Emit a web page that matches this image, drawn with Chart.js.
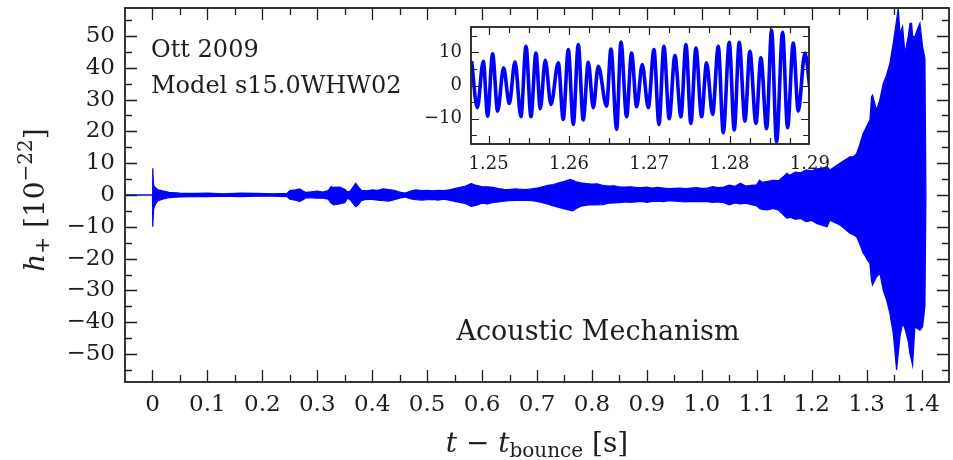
<!DOCTYPE html>
<html><head><meta charset="utf-8">
<script src="https://cdn.jsdelivr.net/npm/chart.js@4.4.1/dist/chart.umd.min.js"></script>
<style>
html,body{margin:0;padding:0;background:#fff;}
#wrap{position:relative;width:953px;height:460px;overflow:hidden;background:#fff;}
#main{position:absolute;left:0;top:0;}
#inset{position:absolute;left:400px;top:15px;}
</style></head><body>
<div id="wrap"><canvas id="main" width="953" height="460"></canvas><canvas id="inset" width="430" height="170"></canvas></div>
<script>
// ---------- data ----------
// Main panel: upper / lower envelope of the dense h+ signal [1e-22] vs t - t_bounce [s]
const sigT = [-0.05,0.0,0.0005,0.002,0.005,0.01,0.02,0.03,0.05,0.08,0.10,0.13,0.16,0.19,0.22,0.245,0.25,0.26,0.268,0.275,0.28,0.29,0.30,0.31,0.32,0.325,0.33,0.34,0.35,0.355,0.36,0.37,0.375,0.38,0.39,0.40,0.41,0.42,0.43,0.44,0.45,0.46,0.47,0.48,0.49,0.50,0.51,0.52,0.53,0.54,0.55,0.56,0.57,0.58,0.59,0.60,0.61,0.62,0.63,0.64,0.65,0.66,0.67,0.68,0.69,0.70,0.71,0.72,0.73,0.74,0.75,0.76,0.765,0.77,0.78,0.79,0.80,0.81,0.82,0.83,0.84,0.85,0.86,0.87,0.88,0.89,0.90,0.91,0.92,0.93,0.94,0.95,0.96,0.97,0.98,0.99,1.00,1.01,1.02,1.03,1.04,1.05,1.06,1.07,1.08,1.09,1.10,1.105,1.11,1.12,1.13,1.14,1.15,1.155,1.16,1.17,1.18,1.19,1.20,1.21,1.22,1.228,1.2332,1.2514,1.2696,1.2756,1.2817,1.2878,1.2938,1.2970,1.2999,1.3060,1.3090,1.3108,1.3181,1.3242,1.3302,1.3364,1.3424,1.3485,1.3546,1.3576,1.3607,1.3655,1.3698,1.3758,1.3790,1.3819,1.3837,1.3879,1.3922,1.3971,1.4019,1.4062,1.4080];
const sigUpper = [0,0,8.4,3.0,2.4,1.6,1.2,0.8,0.6,0.5,0.6,0.4,0.6,0.5,0.4,0.5,1.4,1.6,1.9,1.2,0.8,1.0,1.2,0.9,1.4,2.6,2.4,2.5,1.8,1.0,1.2,3.7,2.5,1.5,1.3,1.6,1.5,1.9,1.7,1.5,0.9,0.6,1.2,1.6,1.4,1.5,1.3,1.5,1.4,1.6,2.0,2.4,2.8,3.6,3.0,2.6,2.6,2.4,2.0,1.8,1.7,1.9,1.8,1.7,1.9,2.2,2.6,3.0,3.3,3.8,4.3,4.9,4.6,4.2,3.8,3.6,3.4,3.5,3.0,2.8,2.9,2.6,2.5,2.6,2.4,2.3,2.5,2.2,2.4,2.2,2.0,2.1,2.2,2.0,2.2,2.3,2.1,2.2,2.6,2.3,2.5,3.1,2.7,3.7,2.8,3.0,3.2,4.7,4.0,4.3,4.6,4.5,6.0,6.8,6.2,7.2,7.0,7.9,7.6,8.2,8.5,8.9,7.9,10.0,12.0,12.0,13.0,16.0,19.4,20.4,21.5,23.6,30.9,31.4,26.7,30.0,35.0,37.7,41.4,47.7,55.0,58.7,50.8,53.0,44.5,49.8,54.0,54.0,50.0,49.8,51.9,54.0,46.6,43.0,0];
const sigLower = [0,0,-10.0,-4.5,-3.0,-1.8,-1.2,-0.8,-0.6,-0.5,-0.5,-0.4,-0.5,-0.4,-0.4,-0.5,-1.3,-1.6,-2.0,-1.4,-0.8,-0.9,-1.0,-1.0,-1.3,-2.5,-3.1,-2.8,-2.4,-1.0,-1.5,-3.7,-3.0,-1.8,-1.3,-1.4,-1.6,-1.8,-1.9,-1.5,-1.0,-0.6,-1.2,-1.5,-1.6,-1.5,-1.4,-1.6,-1.3,-1.6,-2.0,-2.3,-2.7,-3.6,-3.2,-2.6,-2.8,-2.3,-2.2,-1.9,-1.8,-1.7,-1.7,-1.7,-1.8,-2.0,-2.4,-2.9,-3.4,-3.9,-4.4,-4.8,-5.0,-4.4,-3.5,-3.2,-3.0,-3.1,-3.0,-2.6,-2.5,-2.4,-2.2,-2.3,-2.2,-2.0,-2.3,-2.0,-1.9,-2.1,-1.8,-1.9,-2.0,-2.2,-2.0,-2.1,-2.0,-2.1,-2.3,-2.2,-2.4,-3.1,-2.5,-2.8,-2.6,-3.0,-3.4,-4.2,-4.5,-4.7,-4.2,-4.8,-6.5,-7.3,-7.0,-7.6,-7.4,-8.4,-8.0,-9.0,-9.6,-10.0,-7.9,-9.4,-12.0,-12.5,-13.1,-15.5,-18.3,-19.0,-20.0,-21.5,-27.0,-28.3,-25.7,-24.6,-29.9,-33.0,-37.2,-43.5,-55.0,-50.0,-44.5,-40.4,-42.0,-46.0,-50.0,-52.0,-53.5,-41.4,-42.0,-42.5,-41.4,-35.0,0];

// Inset: successive extrema of the resolved waveform, t in [1.248, 1.290]
const insetT = [1.24788,1.24858,1.24933,1.24987,1.25049,1.25112,1.25186,1.25257,1.25328,1.25402,1.25465,1.25527,1.25589,1.25643,1.25705,1.25776,1.25867,1.25929,1.25992,1.26054,1.26116,1.26178,1.26241,1.26303,1.26365,1.26469,1.26523,1.26594,1.26648,1.26718,1.26780,1.26843,1.26913,1.26988,1.27059,1.27121,1.27183,1.27249,1.27320,1.27395,1.27457,1.27519,1.27582,1.27652,1.27714,1.27789,1.27860,1.27922,1.27997,1.28059,1.28121,1.28192,1.28254,1.28329,1.28391,1.28462,1.28524,1.28586,1.28661,1.28723,1.28794,1.28856,1.28939,1.29010];
const insetH = [7.3,-6.7,7.3,-9.2,9.5,-7.7,5.3,-5.4,7.1,-9.4,11.8,-9.4,9.8,-7.0,7.6,-5.7,6.8,-10.2,10.8,-11.7,12.3,-10.4,7.0,-6.7,5.8,-6.2,11.0,-13.2,13.1,-9.4,9.8,-6.4,6.3,-6.7,10.8,-11.7,11.8,-10.0,9.0,-9.4,12.3,-11.4,11.3,-9.4,6.8,-8.7,11.8,-14.2,13.0,-13.4,13.0,-10.7,10.3,-11.4,8.3,-13.0,16.6,-17.0,16.0,-12.7,12.8,-7.7,9.8,-3.0];

// Tick values and labels
const xTickVals = [0,0.1,0.2,0.3,0.4,0.5,0.6,0.7,0.8,0.9,1.0,1.1,1.2,1.3,1.4];
const xTickLabels = ['0','0.1','0.2','0.3','0.4','0.5','0.6','0.7','0.8','0.9','1.0','1.1','1.2','1.3','1.4'];
const yTickVals = [-50,-40,-30,-20,-10,0,10,20,30,40,50];
const yTickLabels = ['\u221250','\u221240','\u221230','\u221220','\u221210','0','10','20','30','40','50'];
const insetXTickVals = [1.25,1.26,1.27,1.28,1.29];
const insetXTickLabels = ['1.25','1.26','1.27','1.28','1.29'];
const insetYTickVals = [-10,0,10];
const insetYTickLabels = ['\u221210','0','10'];

// Text
const noteLines = ['Ott 2009','Model s15.0WHW02'];
const mechText = 'Acoustic Mechanism';

// ---------- styling ----------
const SERIF = "'DejaVu Serif', 'Liberation Serif', serif";
const INK = '#1e1e1e';
const BLUE = '#0000ff';

function minorsBetween(vals, step){
  const out = [];
  const lo = vals[0] - step, hi = vals[vals.length-1] + step;
  for (let v = lo; v <= hi + 1e-9; v += step * 2) out.push(+v.toFixed(6));
  return out;
}
function noPad(s){ s.paddingTop = 0; s.paddingBottom = 0; s.paddingLeft = 0; s.paddingRight = 0; }

function framePlugin(cfg){
  return {
    id: 'frame_' + cfg.name,
    beforeDraw(chart){
      if (!cfg.whiteBg) return;
      const a = chart.chartArea, ctx = chart.ctx;
      ctx.save(); ctx.fillStyle = '#fff';
      ctx.fillRect(a.left, a.top, a.right - a.left, a.bottom - a.top);
      ctx.restore();
    },
    afterDraw(chart){
      const {ctx, chartArea: a, scales} = chart;
      ctx.save();
      ctx.strokeStyle = INK;
      ctx.lineWidth = cfg.tickWidth;
      ctx.beginPath();
      const xt = (vals, len) => vals.forEach(v => {
        const p = Math.round(scales.x.getPixelForValue(v)) + 0.5;
        if (p < a.left || p > a.right) return;
        ctx.moveTo(p, a.bottom); ctx.lineTo(p, a.bottom - len);
        ctx.moveTo(p, a.top); ctx.lineTo(p, a.top + len);
      });
      const yt = (vals, len) => vals.forEach(v => {
        const p = Math.round(scales.y.getPixelForValue(v)) + 0.5;
        if (p < a.top || p > a.bottom) return;
        ctx.moveTo(a.left, p); ctx.lineTo(a.left + len, p);
        ctx.moveTo(a.right, p); ctx.lineTo(a.right - len, p);
      });
      xt(cfg.xMajor, cfg.majorLen); xt(cfg.xMinor, cfg.minorLen);
      yt(cfg.yMajor, cfg.majorLen); yt(cfg.yMinor, cfg.minorLen);
      ctx.stroke();
      ctx.lineWidth = cfg.frameWidth;
      ctx.strokeRect(a.left, a.top, a.right - a.left, a.bottom - a.top);
      ctx.restore();
      if (cfg.extra) cfg.extra(chart);
    }
  };
}

function drawRich(ctx, parts){
  let w = 0;
  parts.forEach(p => { ctx.font = p.font; p.w = ctx.measureText(p.t).width; w += p.w; });
  let x = -w/2;
  parts.forEach(p => { ctx.font = p.font; ctx.fillText(p.t, x, p.dy); x += p.w; });
}

function mainExtras(chart){
  const ctx = chart.ctx, a = chart.chartArea;
  ctx.save();
  ctx.fillStyle = INK;
  ctx.textBaseline = 'alphabetic';
  ctx.textAlign = 'left';
  ctx.font = '24px ' + SERIF;
  ctx.fillText(noteLines[0], a.left + 26, 57);
  ctx.fillText(noteLines[1], a.left + 26, 93);
  ctx.font = '27px ' + SERIF;
  ctx.textAlign = 'center';
  ctx.fillText(mechText, 598, 340);
  ctx.textAlign = 'left';
  // x-axis title
  ctx.save();
  ctx.translate(537, 452);
  drawRich(ctx, [
    {t:'t', font:'italic 28px ' + SERIF, dy:0},
    {t:' \u2212 ', font:'28px ' + SERIF, dy:0},
    {t:'t', font:'italic 28px ' + SERIF, dy:0},
    {t:'bounce', font:'20px ' + SERIF, dy:5},
    {t:' [s]', font:'28px ' + SERIF, dy:0}
  ]);
  ctx.restore();
  // y-axis title
  ctx.save();
  ctx.translate(44, 200);
  ctx.rotate(-Math.PI/2);
  drawRich(ctx, [
    {t:'h', font:'italic 28px ' + SERIF, dy:0},
    {t:'+', font:'20px ' + SERIF, dy:5},
    {t:' [10', font:'28px ' + SERIF, dy:0},
    {t:'\u221222', font:'20px ' + SERIF, dy:-12},
    {t:']', font:'28px ' + SERIF, dy:0}
  ]);
  ctx.restore();
  ctx.restore();
}

// ---------- main chart ----------
const mainMinorX = minorsBetween(xTickVals, 0.05).filter(v => v > -0.05 && v < 1.45);
const mainMinorY = minorsBetween(yTickVals, 5);

new Chart(document.getElementById('main'), {
  type: 'line',
  data: {
    datasets: [
      { data: sigT.map((t,i) => ({x:t, y:sigUpper[i]})), borderColor: BLUE, borderWidth: 1.2,
        pointRadius: 0, fill: false, tension: 0 },
      { data: sigT.map((t,i) => ({x:t, y:sigLower[i]})), borderColor: BLUE, borderWidth: 1.2,
        pointRadius: 0, fill: '-1', backgroundColor: BLUE, tension: 0 }
    ]
  },
  options: {
    responsive: false, animation: false, devicePixelRatio: 1,
    layout: { padding: { left: 0, right: 4, top: 8, bottom: 0 } },
    plugins: { legend: {display:false}, tooltip: {enabled:false} },
    scales: {
      x: {
        type: 'linear', min: -0.05, max: 1.45,
        grid: { display: false, drawTicks: false }, border: { display: false },
        afterBuildTicks: s => { s.ticks = xTickVals.map(v => ({value: v})); },
        afterFit: s => { s.height = 78; noPad(s); },
        ticks: { autoSkip: false, maxRotation: 0, padding: 9, color: INK,
          font: { family: SERIF, size: 23 },
          callback: (v) => xTickLabels[xTickVals.findIndex(t => Math.abs(t - v) < 1e-9)] }
      },
      y: {
        type: 'linear', min: -58.8, max: 58.8,
        grid: { display: false, drawTicks: false }, border: { display: false },
        afterBuildTicks: s => { s.ticks = yTickVals.map(v => ({value: v})); },
        afterFit: s => { s.width = 125; noPad(s); },
        ticks: { autoSkip: false, padding: 10, color: INK,
          font: { family: SERIF, size: 23 },
          callback: (v) => yTickLabels[yTickVals.indexOf(v)] }
      }
    }
  },
  plugins: [framePlugin({ name: 'main', xMajor: xTickVals, xMinor: mainMinorX, yMajor: yTickVals,
    yMinor: mainMinorY, majorLen: 12, minorLen: 7, tickWidth: 1.3, frameWidth: 1.8, extra: mainExtras })]
});

// ---------- inset chart ----------
const insetMinorX = [];
for (let i = 0; i < insetXTickVals.length - 1; i++) {
  for (let k = 1; k < 4; k++) insetMinorX.push(+(insetXTickVals[i] + k*0.0025).toFixed(5));
}
const insetMinorY = minorsBetween(insetYTickVals, 5);

new Chart(document.getElementById('inset'), {
  type: 'line',
  data: {
    datasets: [
      { data: insetT.map((t,i) => ({x:t, y:insetH[i]})), borderColor: BLUE, borderWidth: 3.6,
        pointRadius: 0, fill: false, cubicInterpolationMode: 'monotone' }
    ]
  },
  options: {
    responsive: false, animation: false, devicePixelRatio: 1,
    layout: { padding: { left: 0, right: 21, top: 12, bottom: 0 } },
    plugins: { legend: {display:false}, tooltip: {enabled:false} },
    scales: {
      x: {
        type: 'linear', min: 1.2478, max: 1.2899,
        grid: { display: false, drawTicks: false }, border: { display: false },
        afterBuildTicks: s => { s.ticks = insetXTickVals.map(v => ({value: v})); },
        afterFit: s => { s.height = 41; noPad(s); },
        ticks: { autoSkip: false, maxRotation: 0, padding: 10, color: INK,
          font: { family: SERIF, size: 18 },
          callback: (v) => insetXTickLabels[insetXTickVals.findIndex(t => Math.abs(t - v) < 1e-9)] }
      },
      y: {
        type: 'linear', min: -17.6, max: 17.6,
        grid: { display: false, drawTicks: false }, border: { display: false },
        afterBuildTicks: s => { s.ticks = insetYTickVals.map(v => ({value: v})); },
        afterFit: s => { s.width = 71; noPad(s); },
        ticks: { autoSkip: false, padding: 9, color: INK,
          font: { family: SERIF, size: 18 },
          callback: (v) => insetYTickLabels[insetYTickVals.indexOf(v)] }
      }
    }
  },
  plugins: [framePlugin({ name: 'inset', whiteBg: true, xMajor: insetXTickVals, xMinor: insetMinorX,
    yMajor: insetYTickVals, yMinor: insetMinorY, majorLen: 8, minorLen: 6, tickWidth: 1.2, frameWidth: 1.8 })]
});
</script>
</body></html>
